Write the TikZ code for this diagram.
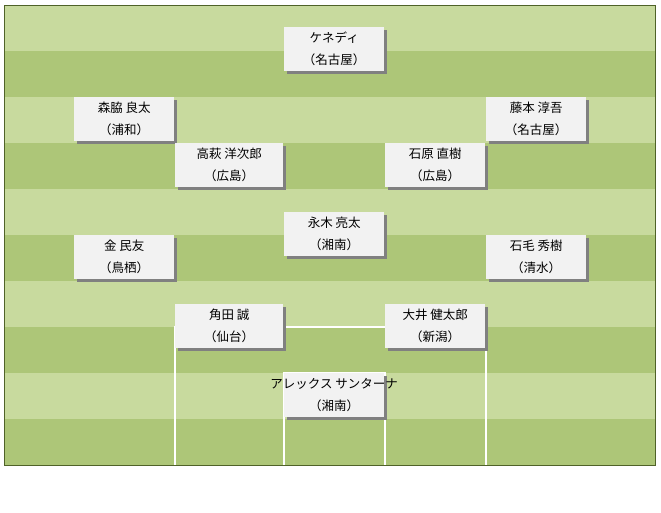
\documentclass[tikz,border=0pt]{standalone}
\usepackage{fontspec}
\newfontfamily\cjk{Noto Sans CJK JP}
\usetikzlibrary{shadows}
\definecolor{stripeA}{HTML}{C8DA9E}
\definecolor{stripeB}{HTML}{ADC678}
\definecolor{fieldedge}{HTML}{4F6228}
\definecolor{boxgray}{HTML}{F2F2F2}
\definecolor{shadowgray}{HTML}{808080}
\begin{document}
\begin{tikzpicture}[x=1pt,y=-1pt,
  player/.style={fill=boxgray, minimum width=100pt, minimum height=44pt, inner sep=0pt,
    anchor=north west, align=center, font=\cjk\fontsize{12.5}{22}\selectfont,
    drop shadow={shadow xshift=2.5pt, shadow yshift=-2.5pt, fill=shadowgray, opacity=1}},
  wide/.style={minimum width=108pt},
  pitchline/.style={white, line width=2pt}]
\useasboundingbox (0,0) rectangle (661,512);
% stripes
\foreach \i in {0,...,9}{
  \pgfmathsetmacro{\ya}{5+46*\i}
  \pgfmathsetmacro{\yb}{5+46*(\i+1)}
  \ifodd\i
    \fill[stripeB] (4,\ya) rectangle (655,\yb);
  \else
    \fill[stripeA] (4,\ya) rectangle (655,\yb);
  \fi
}
\draw[fieldedge, line width=1pt] (4,5) rectangle (655,465);
% penalty box and goal area
\draw[pitchline] (175,465) -- (175,327) -- (486,327) -- (486,465);
\draw[pitchline] (284,465) -- (284,373) -- (385,373) -- (385,465);
% players
\node[player] (kennedy) at (284,27) {ケネディ\\（名古屋）};
\node[player] (moriwaki) at (74,97) {森脇 良太\\（浦和）};
\node[player] (fujimoto) at (486,97) {藤本 淳吾\\（名古屋）};
\node[player, wide] (takahagi) at (175,143) {高萩 洋次郎\\（広島）};
\node[player] (ishihara) at (385,143) {石原 直樹\\（広島）};
\node[player] (nagaki) at (284,212) {永木 亮太\\（湘南）};
\node[player] (kim) at (74,235) {金 民友\\（鳥栖）};
\node[player] (ishige) at (486,235) {石毛 秀樹\\（清水）};
\node[player, wide] (kakuda) at (175,304) {角田 誠\\（仙台）};
\node[player] (ooi) at (385,304) {大井 健太郎\\（新潟）};
\node[player] (santana) at (284,373) {\makebox[100pt][c]{\hss アレックス サンターナ\hss}\\（湘南）};
\end{tikzpicture}
\end{document}
